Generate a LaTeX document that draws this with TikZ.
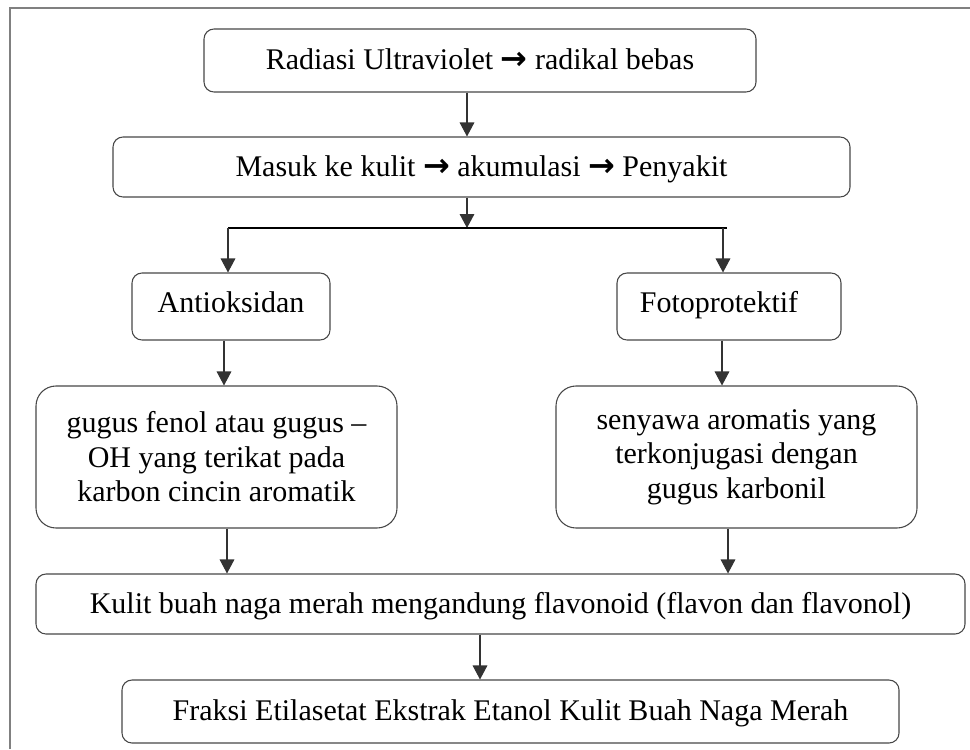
\documentclass[tikz,border=0pt]{standalone}
\usepackage{fontspec}
\setmainfont{Liberation Serif}
\newfontfamily\arrfont{DejaVu Sans}
\usetikzlibrary{arrows.meta}
\newcommand{\rarr}{{\arrfont\bfseries\fontsize{24}{26}\selectfont →}}
\newcommand{\mystrut}{\rule[-6.5pt]{0pt}{26.5pt}}
\newcommand{\smstrut}{\rule[-9.5pt]{0pt}{27.7pt}}
\begin{document}
\begin{tikzpicture}[x=0.75pt,y=-0.75pt,
  box/.style={draw=black!72,line width=0.8pt,rounded corners=7.5pt,inner sep=0pt,align=center,
    font=\fontsize{22.5}{25.9}\selectfont},
  bigbox/.style={box,rounded corners=15pt},
  arr/.style={draw=black!80,line width=0.8pt,-{Triangle[length=10.5pt,width=11pt]}},
  ln/.style={draw=black,line width=0.8pt}]
\useasboundingbox (0,0) rectangle (970,749);
\draw[gray,line width=1pt] (10,749) -- (10,8) -- (970,8);

\node[box,minimum width=414pt,minimum height=47.25pt] (r1) at (480,60.5) {\mystrut Radiasi Ultraviolet \rarr\ radikal bebas};
\node[box,minimum width=552.75pt,minimum height=45pt] (r2) at (481.5,167) {\mystrut Masuk ke kulit \rarr\ akumulasi \rarr\ Penyakit};
\node[box,minimum width=148.5pt,minimum height=50.25pt] (anti) at (231,306.5) {\smstrut Antioksidan};
\node[box,minimum width=168pt,minimum height=50.25pt] (foto) at (729,306.5) {\hbox{\smstrut Fotoprotektif\kern15pt}};
\node[bigbox,minimum width=270.75pt,minimum height=106.5pt] (gugus) at (216.5,457) {gugus fenol atau gugus –\\OH yang terikat pada\\karbon cincin aromatik};
\node[bigbox,minimum width=270.75pt,minimum height=106.5pt] (seny) at (736.5,457) {senyawa aromatis yang\\terkonjugasi dengan\\gugus karbonil};
\node[box,minimum width=696.75pt,minimum height=45pt] (kulit) at (500.5,604) {\mystrut Kulit buah naga merah mengandung flavonoid (flavon dan flavonol)};
\node[box,minimum width=582.75pt,minimum height=47.25pt] (fraksi) at (510.5,711.5) {\mystrut Fraksi Etilasetat Ekstrak Etanol Kulit Buah Naga Merah};

\coordinate (xa) at (467,0);
\coordinate (sp) at (467,228);
\coordinate (spl) at (228,228);
\coordinate (spr) at (727,228);
\coordinate (xr) at (723,0);
\coordinate (xl2) at (224,0);
\coordinate (xr2) at (722,0);
\coordinate (xl3) at (227,0);
\coordinate (xr3) at (728,0);
\coordinate (xm) at (480,0);

\draw[arr] (r1.south -| xa) -- (r2.north -| xa);
\draw[arr] (r2.south -| xa) -- (sp);
\draw[ln] (spl) -- (spr);
\draw[arr] (spl) -- (anti.north -| spl);
\draw[arr] (spr -| xr) -- (foto.north -| xr);
\draw[arr] (anti.south -| xl2) -- (gugus.north -| xl2);
\draw[arr] (foto.south -| xr2) -- (seny.north -| xr2);
\draw[arr] (gugus.south -| xl3) -- (kulit.north -| xl3);
\draw[arr] (seny.south -| xr3) -- (kulit.north -| xr3);
\draw[arr] (kulit.south -| xm) -- (fraksi.north -| xm);
\end{tikzpicture}
\end{document}
